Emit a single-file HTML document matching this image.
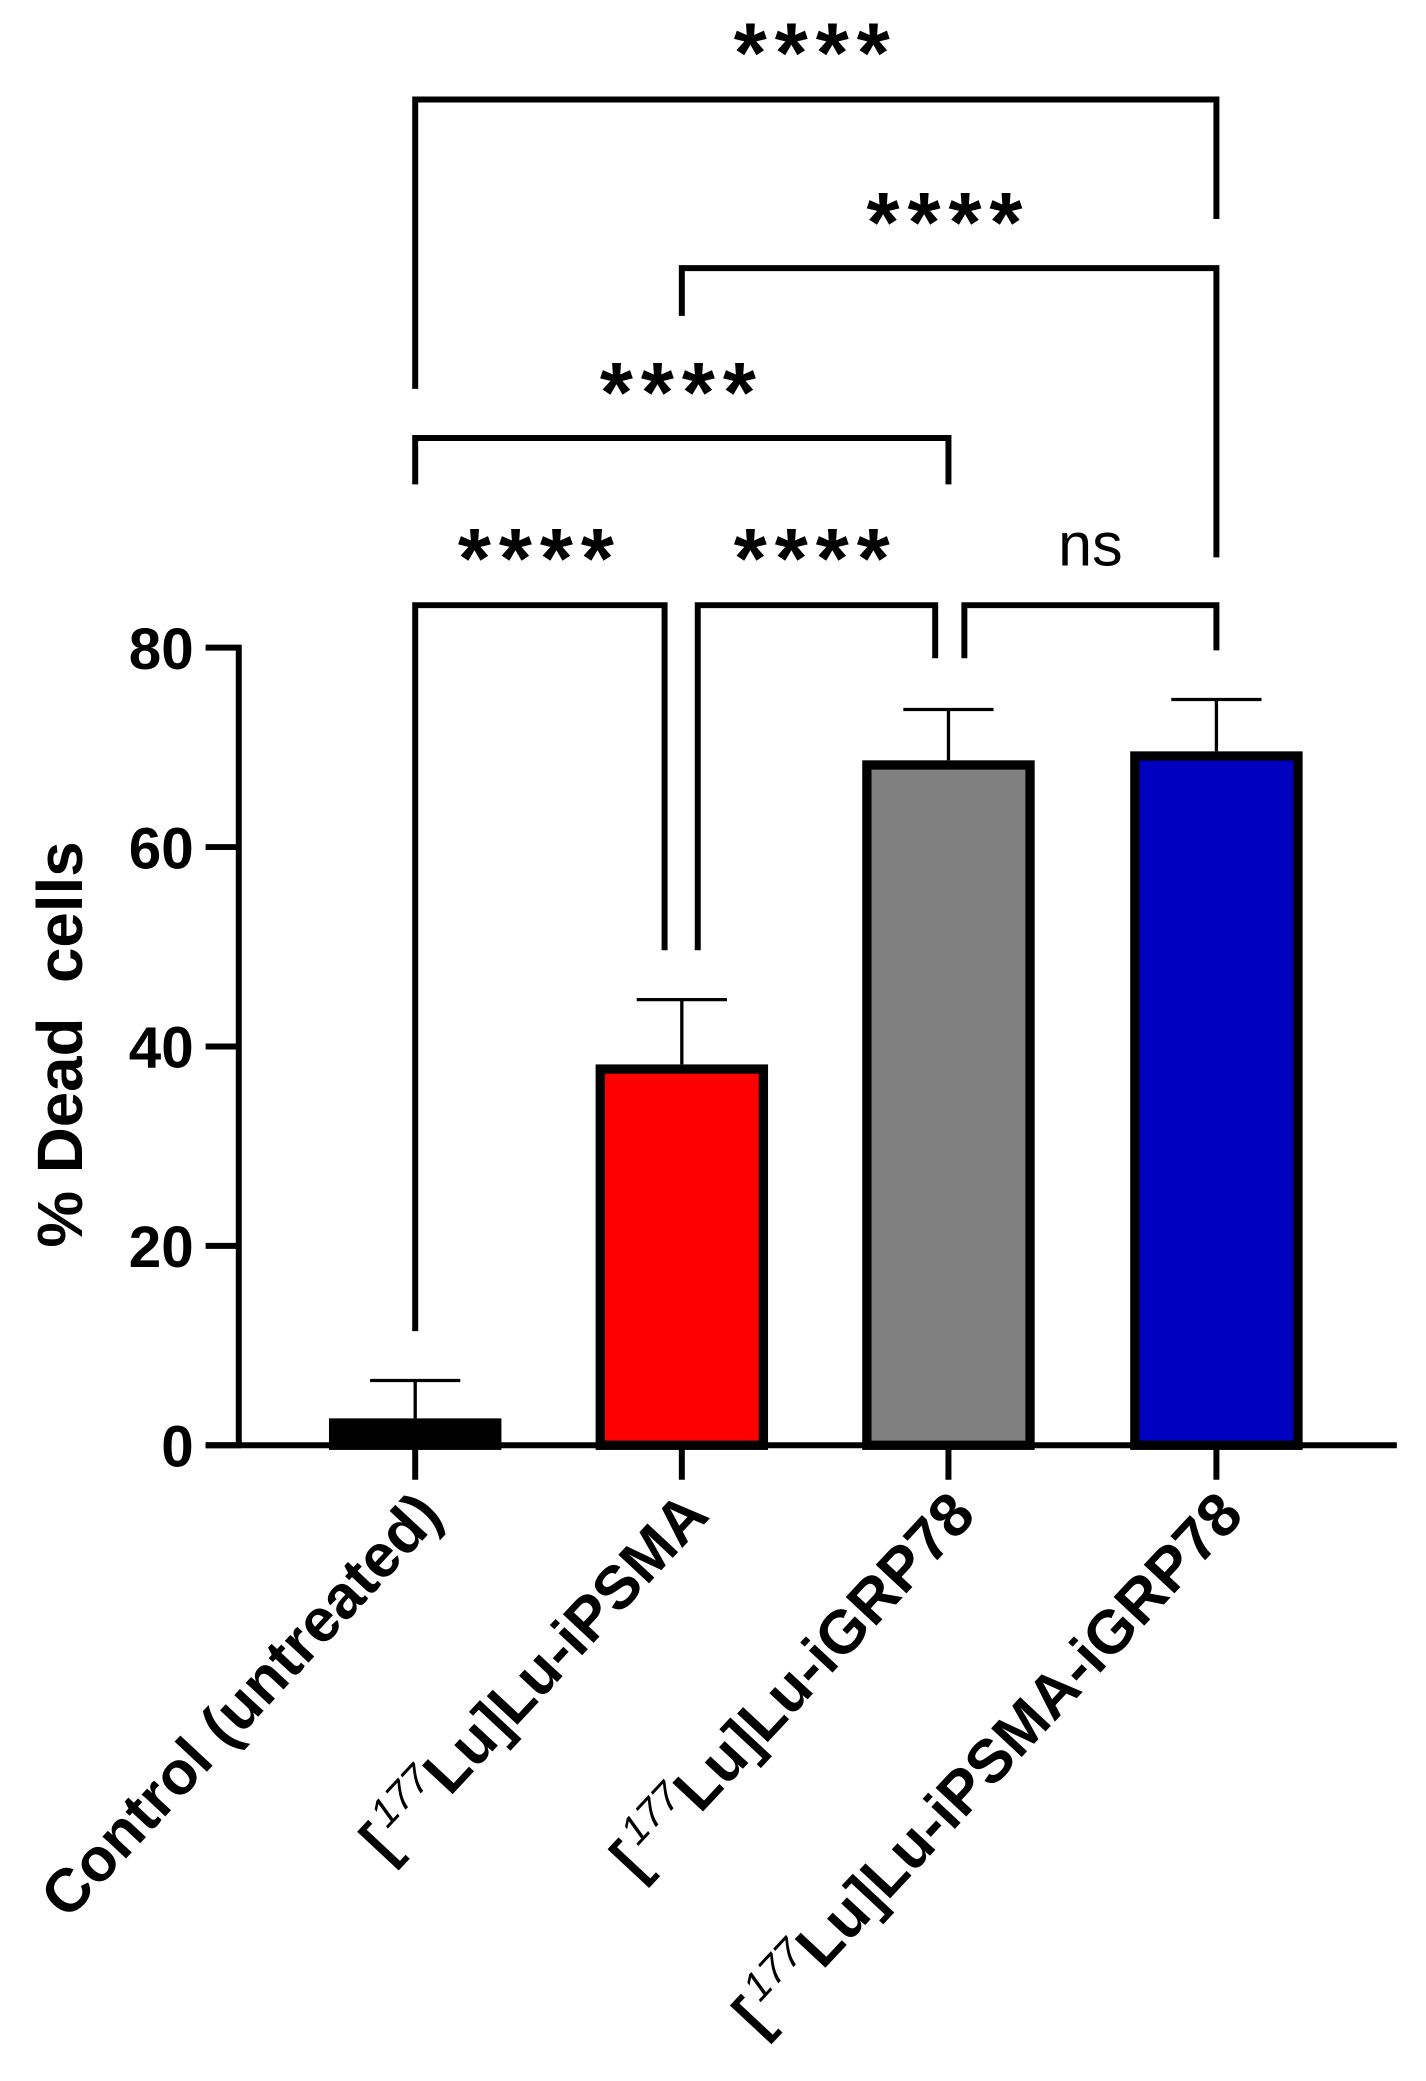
<!DOCTYPE html>
<html><head><meta charset="utf-8"><style>
html,body{margin:0;padding:0;background:#fff}
svg{display:block}
text{font-family:"Liberation Sans",sans-serif}
</style></head><body>
<svg id="chart" width="1426" height="2081" viewBox="0 0 1075 1568" preserveAspectRatio="none" xmlns="http://www.w3.org/2000/svg">
<g id="brackets"></g>
<g id="bars"></g>
<g id="axes"></g>
</svg>
<script>
const categories = ["Control (untreated)", "iPSMA", "iGRP78", "iPSMA-iGRP78"];
const values = [2.7, 38.2, 68.7, 69.6];
const errors = [3.8, 6.5, 5.1, 5.2];
const colors = ["#000000", "#ff0000", "#808080", "#0000c0"];
const yTicks = [0, 20, 40, 60, 80];
const NS = "http://www.w3.org/2000/svg";
const y0 = 1089, yTop = 488, yMax = 80;
const xCenters = [313, 514, 715, 917];
const barW = 130;
function yScale(v){ return y0 - (v / yMax) * (y0 - yTop); }
function xScale(i){ return xCenters[i]; }
function mk(tag, attrs, parent){
  const e = document.createElementNS(NS, tag);
  for (const k in attrs) e.setAttribute(k, attrs[k]);
  parent.appendChild(e);
  return e;
}
const bars = document.getElementById('bars');
const axes = document.getElementById('axes');
const br = document.getElementById('brackets');

values.forEach((v, i) => {
  const cx = xScale(i), top = yScale(v), et = yScale(v + errors[i]);
  const eb = mk('line', {x1:cx, x2:cx, y1:top, y2:et, stroke:'#000', 'stroke-width':2.5}, bars);
  
  
  const cap = mk('line', {x1:cx-34, x2:cx+34, y1:et, y2:et, stroke:'#000', 'stroke-width':2.5}, bars);
  
  
  const r = mk('rect', {x:cx-barW/2+3.5, y:top+3.5, width:barW-7, height:Math.max(0, y0-top-3.5), fill:colors[i], stroke:'#000', 'stroke-width':7}, bars);
  
  
});

let a = mk('line', {x1:180, x2:180, y1:486, y2:1091, stroke:'#000', 'stroke-width':4.5}, axes);


a = mk('line', {x1:155, x2:1053, y1:y0, y2:y0, stroke:'#000', 'stroke-width':4.5}, axes);


yTicks.forEach(t => {
  const y = yScale(t);
  const tk = mk('line', {x1:155, x2:182, y1:y, y2:y, stroke:'#000', 'stroke-width':4.5}, axes);
  
  
  const tl = mk('text', {x:146, y:y+16, 'text-anchor':'end', 'font-size':44, 'font-weight':'bold'}, axes);
  tl.textContent = t;
  
  
});
const yt = mk('text', {x:0, y:0, transform:'translate(62,787) rotate(-90)', 'text-anchor':'middle', 'font-size':48, 'font-weight':'bold'}, axes);
const yt1 = mk('tspan', {}, yt); yt1.textContent = '% Dead';
const yt2 = mk('tspan', {dx:26}, yt); yt2.textContent = 'cells';



const labelParts = [
  [["Control (untreated)", false]],
  [["[", false], ["177", true], ["Lu]Lu-iPSMA", false]],
  [["[", false], ["177", true], ["Lu]Lu-iGRP78", false]],
  [["[", false], ["177", true], ["Lu]Lu-iPSMA-iGRP78", false]]
];
categories.forEach((c, i) => {
  const cx = xScale(i);
  const tk = mk('line', {x1:cx, x2:cx, y1:y0, y2:1115, stroke:'#000', 'stroke-width':4.5}, axes);
  
  
  const t = mk('text', {x:0, y:0, transform:`translate(${cx+22},${1143}) rotate(-47)`, 'text-anchor':'end', 'font-size':46, 'font-weight':'bold'}, axes);
  let prevSup = false;
  labelParts[i].forEach(p => {
    const s = mk('tspan', p[1] ? {'font-size':30, 'font-weight':'normal', 'font-style':'italic', dy:-18, dx:4} : {dy: prevSup ? 18 : 0}, t);
    s.textContent = p[0];
    prevSup = p[1];
  });
  
  
});

const brData = [
  [313, 917, 75, 293, 165, '****', 615, 62],
  [514, 917, 202, 238, 420, '****', 715, 190],
  [313, 715, 330, 365, 365, '****', 514, 318],
  [313, 501, 456, 1003, 716, '****', 407, 443],
  [526, 705, 456, 716, 496, '****', 615, 443],
  [727, 917, 456, 496, 490, 'ns', 822, 426]
];
brData.forEach((b, i) => {
  const p = mk('path', {d:`M${b[0]},${b[3]} V${b[2]} H${b[1]} V${b[4]}`, fill:'none', stroke:'#000', 'stroke-width':4.5}, br);
  
  
  const isNs = b[5] === 'ns';
  const t = mk('text', {x:b[6], y:b[7], 'text-anchor':'middle', 'font-size': isNs?46:64, 'font-weight': isNs?'normal':'bold', 'letter-spacing': isNs?0:6}, br);
  t.textContent = b[5];
  
  
});
</script>
</body></html>
